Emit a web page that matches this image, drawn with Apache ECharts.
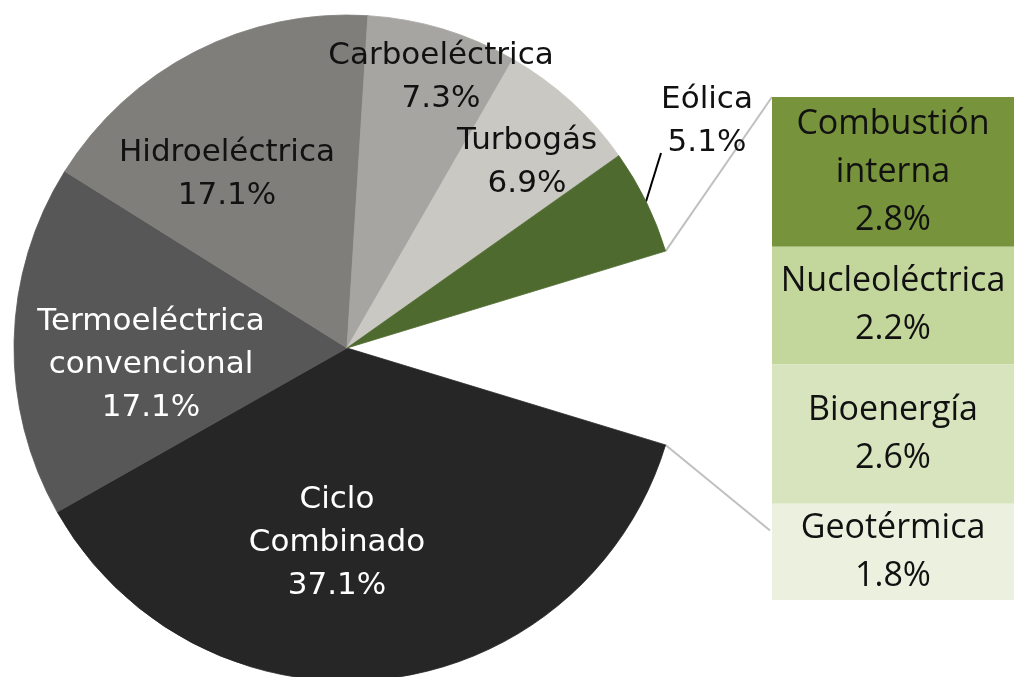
<!DOCTYPE html>
<html><head><meta charset="utf-8">
<script src="https://cdn.jsdelivr.net/npm/echarts@6/dist/echarts.min.js"></script>
<style>html,body{margin:0;padding:0;background:#fff}#c{width:1014px;height:677px}</style>
</head><body><div id="c"></div>
<script>
// ---- data ----
const pieNames = ['Ciclo\nCombinado', 'Termoeléctrica\nconvencional', 'Hidroeléctrica', 'Carboeléctrica', 'Turbogás', 'Eólica', 'Otras'];
const pieValues = [37.1, 17.1, 17.1, 7.3, 6.9, 5.1, 9.4];
const barNames = ['Combustión\ninterna', 'Nucleoléctrica', 'Bioenergía', 'Geotérmica'];
const barValues = [2.8, 2.2, 2.6, 1.8];

// ---- styles ----
const pieColors = ['#262626', '#575757', '#7f7e7a', '#a6a5a1', '#c9c8c3', '#4e6a2e', 'rgba(0,0,0,0)'];
const pieLabelColors = ['#ffffff', '#ffffff', '#111111', '#111111', '#111111', '#111111', '#111111'];
const barColors = ['#77933c', '#c3d69b', '#d7e4bd', '#ebf1de'];
// label anchor offsets from pie centre (px)
const labelOffsets = [[-10, 195], [-196, 17], [-120, -174], [94, -271], [180, -186], [360, -227]];

const CX = 347, CY = 348, R = 333;
const GRID = {left: 772, top: 97, right: 0, bottom: 77};
const total = pieValues.reduce((a, b) => a + b, 0);
const otherIdx = pieValues.length - 1;
const otherAngle = pieValues[otherIdx] / total * 360;
const START = -otherAngle / 2;

function midAngle(i) {
  let cum = 0;
  for (let k = 0; k < i; k++) cum += pieValues[k];
  const a0 = START - cum / total * 360;
  return a0 - pieValues[i] / total * 360 / 2;
}
function polar(r, deg) {
  const t = deg * Math.PI / 180;
  return [CX + r * Math.cos(t), CY - r * Math.sin(t)];
}

const chart = echarts.init(document.getElementById('c'), null, {renderer: 'canvas'});

const pieData = pieNames.map((n, i) => {
  const item = {
    name: n, value: pieValues[i],
    itemStyle: {color: pieColors[i], borderColor: pieColors[i], borderWidth: i === otherIdx ? 0 : 0.8},
    label: {show: i !== otherIdx, color: pieLabelColors[i], position: 'inside'}
  };
  if (i === 5) {
    item.label.position = 'outside';
    item.labelLine = {show: true, length: 30, length2: 0, lineStyle: {color: '#000', width: 2}};
  }
  if (i === otherIdx) item.emphasis = {disabled: true};
  return item;
});

const barSeries = barNames.map((n, i) => ({
  type: 'bar', name: n, stack: 'otras', data: [barValues[i]],
  barWidth: '100%', barCategoryGap: 0,
  itemStyle: {color: barColors[i]},
  label: {
    show: true, position: 'inside',
    formatter: p => p.seriesName + '\n' + p.value.toFixed(1) + '%',
    fontFamily: 'Open Sans', fontSize: 34, lineHeight: 48, color: '#111'
  }
}));

chart.setOption({
  animation: false,
  backgroundColor: '#fff',
  grid: GRID,
  xAxis: {type: 'category', data: ['Otras'], show: false},
  yAxis: {type: 'value', min: 0, max: barValues.reduce((a, b) => a + b, 0), inverse: true, show: false},
  series: [{
    type: 'pie',
    center: [CX, CY], radius: R,
    startAngle: START, clockwise: true,
    avoidLabelOverlap: false,
    label: {
      fontFamily: 'DejaVu Sans', fontSize: 31, lineHeight: 43,
      formatter: p => p.name + '\n' + p.value.toFixed(1) + '%'
    },
    labelLayout: function (p) {
      const i = p.dataIndex;
      if (i >= labelOffsets.length) return {};
      const o = labelOffsets[i];
      const x = CX + o[0], y = CY + o[1];
      const res = {x: x, y: y, align: 'center', verticalAlign: 'middle'};
      if (i === 5) {
        res.labelLinePoints = [polar(R, midAngle(5)), [x - 46, y + 32]];
      }
      return res;
    },
    data: pieData
  }].concat(barSeries)
});

// connector lines between the pie gap and the bar
const yTop = chart.convertToPixel({yAxisIndex: 0}, 0);
const yLow = chart.convertToPixel({yAxisIndex: 0}, 8.1);
const pUp = polar(R, otherAngle / 2);
const pLow = polar(R, -otherAngle / 2);
chart.setOption({
  graphic: [
    {type: 'line', shape: {x1: pUp[0], y1: pUp[1], x2: GRID.left, y2: yTop}, style: {stroke: '#c0c0c0', lineWidth: 2}, z: 1},
    {type: 'line', shape: {x1: pLow[0], y1: pLow[1], x2: GRID.left - 2, y2: yLow}, style: {stroke: '#c0c0c0', lineWidth: 2}, z: 1}
  ]
});
</script>
</body></html>
